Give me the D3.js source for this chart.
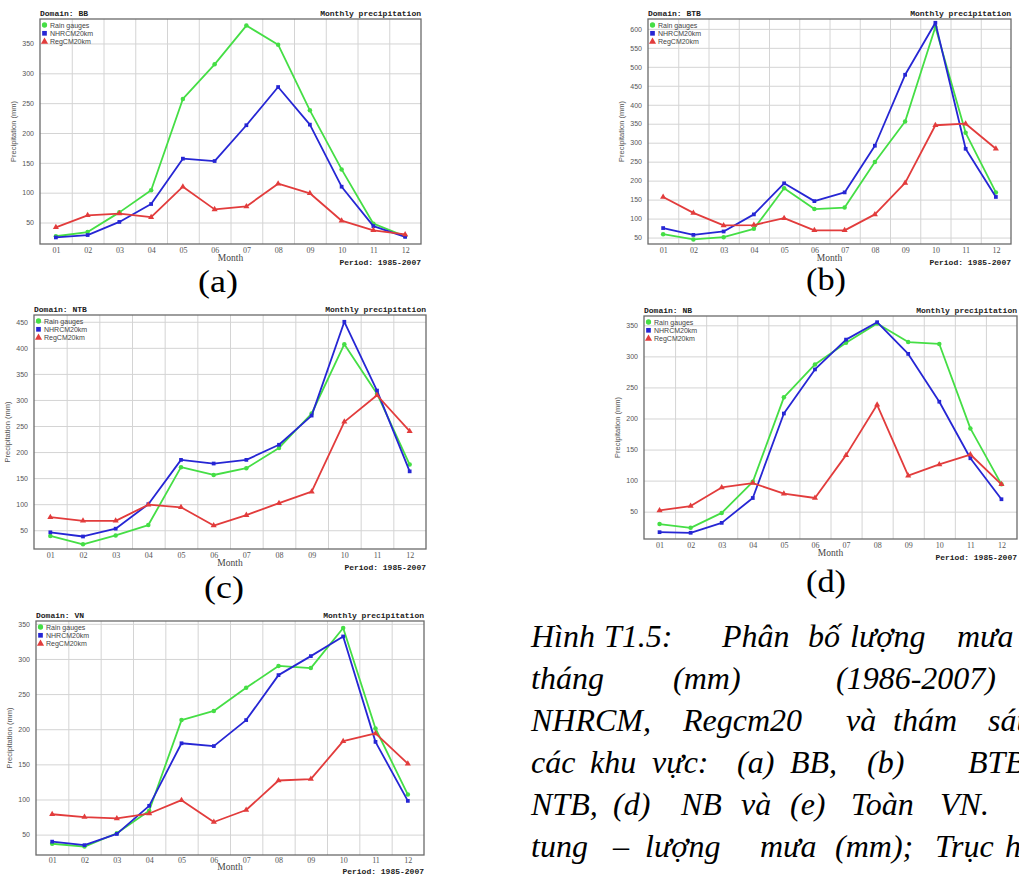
<!DOCTYPE html>
<html><head><meta charset="utf-8">
<script src="https://cdn.jsdelivr.net/npm/d3@7"></script>
<style>body{margin:0;background:#fff;overflow:hidden}svg{display:block}</style>
</head><body><svg id="c" width="1019" height="875"></svg>
<script>
// ---------- data ----------
const months = ["01","02","03","04","05","06","07","08","09","10","11","12"];
const seriesNames = ["Rain gauges","NHRCM20km","RegCM20km"];
const domainNames = ["BB","BTB","NTB","NB","VN"];
const panelLabels = ["(a)","(b)","(c)","(d)","(e)"];
const periodText = "Period: 1985-2007";

const rainBB  = [27,34,67,104,257,315,380,348,238,139,48,27];
const nhrcmBB = [25,29,51,81,157,153,213,277,214,110,44,26];
const regcmBB = [42,62,65,59,110,72,77,115,99,53,37,30];

const rainBTB  = [59,45,51,73,180,125,129,249,356,605,326,169];
const nhrcmBTB = [75,57,66,111,193,146,169,292,479,616,284,157];
const regcmBTB = [157,115,82,83,101,69,69,111,194,346,350,284];

const rainNTB  = [39,23,40,60,171,156,169,208,274,407,312,176];
const nhrcmNTB = [46,38,53,100,185,178,185,214,270,450,318,163];
const regcmNTB = [75,68,68,99,94,59,79,102,124,258,309,240];

const rainNB  = [30,24,48,98,234,287,322,353,323,320,184,94];
const nhrcmNB = [17,16,32,72,208,279,327,355,304,227,136,70];
const regcmNB = [52,59,89,96,79,72,141,222,108,126,142,94];

const rainVN  = [37,33,52,84,213,226,259,290,287,344,201,107];
const nhrcmVN = [40,35,51,91,180,176,213,277,304,332,182,98];
const regcmVN = [79,75,73,80,99,68,85,127,129,183,194,151];

const yTicksBB  = [50,100,150,200,250,300,350];
const yTicksBTB = [50,100,150,200,250,300,350,400,450,500,550,600];
const yTicksNTB = [50,100,150,200,250,300,350,400,450];
const yTicksNB  = [50,100,150,200,250,300,350];
const yTicksVN  = [50,100,150,200,250,300,350];

const captionLines = [
  ["Hình","T1.5:","Phân","bố","lượng","mưa"],
  ["tháng","(mm)","(1986-2007)","theo"],
  ["NHRCM,","Regcm20","và","thám","sát"],
  ["các","khu","vực:","(a)","BB,","(b)","BTB,"],
  ["NTB,","(d)","NB","và","(e)","Toàn","VN.","Trục"],
  ["tung","–","lượng","mưa","(mm);","Trục","hoành"]
];

// ---------- layout ----------
const panels = [
  {name:domainNames[0], label:panelLabels[0], data:[rainBB,nhrcmBB,regcmBB], ticks:yTicksBB,
   box:[40,19,421,244], yDom:[14,391], lab:[218,292], under:[10,17,21]},
  {name:domainNames[1], label:panelLabels[1], data:[rainBTB,nhrcmBTB,regcmBTB], ticks:yTicksBTB,
   box:[648,19,1011,244], yDom:[33,626], lab:[826,290], under:[10,17,21]},
  {name:domainNames[2], label:panelLabels[2], data:[rainNTB,nhrcmNTB,regcmNTB], ticks:yTicksNTB,
   box:[34,315,426,549], yDom:[14,463], lab:[224,598], under:[10,17,21]},
  {name:domainNames[3], label:panelLabels[3], data:[rainNB,nhrcmNB,regcmNB], ticks:yTicksNB,
   box:[644,316,1017,539], yDom:[6,365], lab:[826,592], under:[10,17,21]},
  {name:domainNames[4], label:panelLabels[4], data:[rainVN,nhrcmVN,regcmVN], ticks:yTicksVN,
   box:[36,621,424,855], yDom:[21,354], lab:null, under:[9,15,19]}
];
const colors = ["#45de45","#2626d4","#e23c3c"];
const captionX = [
  [531,604,722,808,850,957],
  [531,673,836,1040],
  [531,683,846,893,988],
  [531,590,652,737,790,867,968],
  [531,613,681,741,790,851,940,1030],
  [531,613,645,760,835,935,1005]
];
const captionY = [647,689,731,773,815,857];

const svg = d3.select("#c");
const mono = "'Liberation Mono','DejaVu Sans Mono',monospace";
const sans = "'Liberation Sans',Arial,sans-serif";
const serif = "'Liberation Serif','Times New Roman',serif";

panels.forEach(p => {
  const [x0,y0,x1,y1] = p.box;
  const g = svg.append("g");
  const x = d3.scaleLinear().domain([0.5,12.5]).range([x0,x1]);
  const y = d3.scaleLinear().domain(p.yDom).range([y1,y0]);

  const ya = g.append("g").attr("transform",`translate(${x0},0)`)
    .call(d3.axisLeft(y).tickValues(p.ticks).tickSize(-(x1-x0)).tickPadding(6));
  ya.select(".domain").remove();
  ya.selectAll("line").attr("stroke","#d4d4d4").attr("stroke-width",1);
  ya.selectAll("text").attr("font-family",sans).attr("font-size",7).attr("fill","#555");

  const xg = g.append("g").attr("transform",`translate(0,${y1})`)
    .call(d3.axisBottom(x).tickValues(d3.range(1.5,12.5,1)).tickSize(-(y1-y0)).tickFormat(""));
  xg.select(".domain").remove();
  xg.selectAll("line").attr("stroke","#d4d4d4").attr("stroke-width",1);

  const xa = g.append("g").attr("transform",`translate(0,${y1})`)
    .call(d3.axisBottom(x).tickValues(d3.range(1,13)).tickSize(0).tickPadding(p.under[0]-7)
      .tickFormat(d => months[d-1]));
  xa.select(".domain").remove();
  xa.selectAll("text").attr("font-family",serif).attr("font-size",8).attr("fill","#555");

  g.append("rect").attr("x",x0).attr("y",y0).attr("width",x1-x0).attr("height",y1-y0)
    .attr("fill","none").attr("stroke","#6a6a6a").attr("stroke-width",1.3);

  const line = d3.line().x((d,i)=>x(i+1)).y(d=>y(d));
  p.data.forEach((arr,k) => {
    g.append("path").datum(arr).attr("d",line).attr("fill","none")
      .attr("stroke",colors[k]).attr("stroke-width",1.8).attr("stroke-linejoin","round");
    const sym = [d3.symbolCircle,d3.symbolSquare,d3.symbolTriangle][k];
    const size = [16,14,16][k];
    g.selectAll(null).data(arr).join("path")
      .attr("transform",(d,i)=>`translate(${x(i+1)},${y(d)})`)
      .attr("d",d3.symbol(sym).size(size)).attr("fill",colors[k]);
  });

  seriesNames.forEach((s,k) => {
    const ly = y0 + 6 + k*8.3;
    const sym = [d3.symbolCircle,d3.symbolSquare,d3.symbolTriangle][k];
    g.append("path").attr("transform",`translate(${x0+4.5},${ly})`)
      .attr("d",d3.symbol(sym).size(22)).attr("fill",colors[k]);
    g.append("text").attr("x",x0+10).attr("y",ly+2.6).text(s)
      .attr("font-family",sans).attr("font-size",7).attr("fill","#444");
  });

  g.append("text").attr("x",x0).attr("y",y0-3).text("Domain: "+p.name)
    .attr("font-family",mono).attr("font-weight","bold").attr("font-size",8).attr("fill","#222");
  g.append("text").attr("x",x1).attr("y",y0-3).attr("text-anchor","end").text("Monthly precipitation")
    .attr("font-family",mono).attr("font-weight","bold").attr("font-size",8).attr("fill","#222");
  g.append("text").attr("x",x1).attr("y",y1+p.under[2]).attr("text-anchor","end").text(periodText)
    .attr("font-family",mono).attr("font-weight","bold").attr("font-size",8).attr("fill","#222");
  g.append("text").attr("x",(x0+x1)/2).attr("y",y1+p.under[1]).attr("text-anchor","middle").text("Month")
    .attr("font-family",serif).attr("font-size",9.5).attr("fill","#444");
  g.append("text").attr("transform",`translate(${x0-24},${(y0+y1)/2}) rotate(-90)`)
    .attr("text-anchor","middle").text("Precipitation (mm)")
    .attr("font-family",sans).attr("font-size",7.5).attr("fill","#555");

  if (p.lab) {
    svg.append("text").attr("x",p.lab[0]-20).attr("y",p.lab[1]).text(p.label)
      .attr("textLength",40).attr("lengthAdjust","spacingAndGlyphs")
      .attr("font-family",serif).attr("font-size",32).attr("fill","#000");
  }
});

captionLines.forEach((words,li) => {
  words.forEach((w,wi) => {
    svg.append("text").attr("x",captionX[li][wi]).attr("y",captionY[li]).text(w)
      .attr("font-family",serif).attr("font-style","italic").attr("font-size",32).attr("fill","#000");
  });
});
</script></body></html>
